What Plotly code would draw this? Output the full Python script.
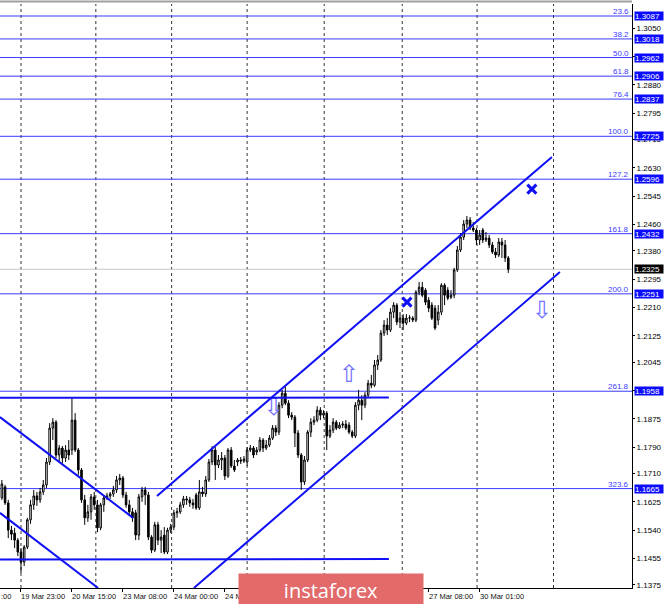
import plotly.graph_objects as go

# ---------------- data ----------------
bar_index = list(range(160))

open_ = [1.1637,1.1670,1.1622,1.1540,1.1531,1.1510,1.1474,1.1444,1.1489,1.1571,
         1.1616,1.1643,1.1631,1.1655,1.1676,1.1745,1.1847,1.1865,1.1766,1.1787,
         1.1757,1.1781,1.1781,1.1871,1.1781,1.1721,1.1631,1.1577,1.1595,1.1640,
         1.1616,1.1547,1.1616,1.1637,1.1643,1.1649,1.1661,1.1691,1.1697,1.1646,
         1.1616,1.1595,1.1592,1.1525,1.1640,1.1661,1.1646,1.1519,1.1480,1.1556,
         1.1510,1.1525,1.1474,1.1540,1.1549,1.1592,1.1595,1.1616,1.1634,1.1631,
         1.1622,1.1646,1.1607,1.1655,1.1649,1.1691,1.1745,1.1781,1.1736,1.1751,
         1.1757,1.1703,1.1781,1.1733,1.1745,1.1751,1.1748,1.1745,1.1781,1.1787,
         1.1775,1.1781,1.1811,1.1787,1.1796,1.1817,1.1847,1.1835,1.1916,1.1952,
         1.1922,1.1886,1.1880,1.1832,1.1766,1.1685,1.1751,1.1835,1.1865,1.1871,
         1.1901,1.1886,1.1892,1.1823,1.1841,1.1865,1.1847,1.1856,1.1859,1.1856,
         1.1835,1.1823,1.1916,1.1931,1.1916,1.1946,1.1982,1.1976,1.2037,1.2052,
         1.2133,1.2157,1.2142,1.2196,1.2217,1.2166,1.2178,1.2163,1.2178,1.2178,
         1.2172,1.2256,1.2271,1.2262,1.2232,1.2217,1.2208,1.2172,1.2196,1.2277,
         1.2262,1.2241,1.2247,1.2323,1.2383,1.2422,1.2461,1.2473,1.2449,1.2443,
         1.2413,1.2443,1.2413,1.2419,1.2398,1.2377,1.2368,1.2407,1.2398,1.2359]

high = [1.1691,1.1676,1.1631,1.1553,1.1547,1.1516,1.1486,1.1495,1.1577,1.1631,
        1.1661,1.1655,1.1667,1.1691,1.1757,1.1862,1.1877,1.1871,1.1796,1.1793,
        1.1796,1.1811,1.1937,1.1892,1.1787,1.1727,1.1646,1.1616,1.1649,1.1655,
        1.1631,1.1622,1.1646,1.1652,1.1655,1.1673,1.1703,1.1709,1.1703,1.1655,
        1.1631,1.1607,1.1601,1.1649,1.1670,1.1670,1.1655,1.1525,1.1565,1.1565,
        1.1540,1.1549,1.1547,1.1559,1.1601,1.1607,1.1625,1.1643,1.1643,1.1640,
        1.1634,1.1652,1.1691,1.1670,1.1703,1.1754,1.1793,1.1790,1.1766,1.1775,
        1.1766,1.1787,1.1790,1.1751,1.1757,1.1760,1.1763,1.1790,1.1796,1.1793,
        1.1790,1.1820,1.1817,1.1811,1.1826,1.1856,1.1856,1.1925,1.1962,1.1971,
        1.1931,1.1895,1.1886,1.1841,1.1772,1.1763,1.1841,1.1877,1.1883,1.1913,
        1.1910,1.1901,1.1898,1.1856,1.1877,1.1871,1.1865,1.1868,1.1871,1.1865,
        1.1841,1.1925,1.1962,1.1946,1.1955,1.1992,1.2007,1.2052,1.2067,1.2142,
        1.2172,1.2178,1.2208,1.2226,1.2223,1.2196,1.2190,1.2190,1.2187,1.2184,
        1.2262,1.2287,1.2287,1.2268,1.2241,1.2226,1.2217,1.2217,1.2283,1.2283,
        1.2271,1.2262,1.2329,1.2395,1.2434,1.2473,1.2485,1.2482,1.2467,1.2449,
        1.2443,1.2449,1.2437,1.2428,1.2407,1.2389,1.2419,1.2419,1.2413,1.2365]

low = [1.1631,1.1616,1.1516,1.1510,1.1486,1.1462,1.1411,1.1432,1.1483,1.1559,
       1.1601,1.1613,1.1622,1.1646,1.1667,1.1736,1.1811,1.1757,1.1745,1.1742,
       1.1745,1.1751,1.1766,1.1775,1.1706,1.1622,1.1556,1.1565,1.1571,1.1601,
       1.1534,1.1540,1.1595,1.1631,1.1634,1.1640,1.1652,1.1676,1.1637,1.1607,
       1.1583,1.1565,1.1510,1.1510,1.1625,1.1616,1.1510,1.1471,1.1474,1.1495,
       1.1471,1.1468,1.1468,1.1531,1.1540,1.1577,1.1589,1.1607,1.1616,1.1610,
       1.1604,1.1601,1.1601,1.1640,1.1640,1.1685,1.1736,1.1691,1.1727,1.1721,
       1.1691,1.1697,1.1727,1.1715,1.1733,1.1739,1.1742,1.1733,1.1775,1.1757,
       1.1766,1.1775,1.1775,1.1781,1.1790,1.1811,1.1823,1.1826,1.1907,1.1916,
       1.1877,1.1871,1.1790,1.1757,1.1661,1.1676,1.1745,1.1820,1.1856,1.1865,
       1.1871,1.1877,1.1781,1.1817,1.1832,1.1841,1.1844,1.1847,1.1841,1.1829,
       1.1817,1.1817,1.1901,1.1871,1.1907,1.1937,1.1967,1.1971,1.2022,1.2046,
       1.2124,1.2127,1.2136,1.2178,1.2157,1.2148,1.2142,1.2157,1.2166,1.2166,
       1.2166,1.2247,1.2241,1.2217,1.2196,1.2172,1.2142,1.2157,1.2187,1.2217,
       1.2232,1.2235,1.2238,1.2317,1.2377,1.2413,1.2449,1.2443,1.2437,1.2398,
       1.2398,1.2404,1.2407,1.2389,1.2371,1.2359,1.2362,1.2359,1.2347,1.2314]

close = [1.1679,1.1622,1.1540,1.1528,1.1510,1.1474,1.1444,1.1489,1.1571,1.1616,
         1.1643,1.1631,1.1655,1.1676,1.1745,1.1847,1.1865,1.1766,1.1787,1.1757,
         1.1781,1.1766,1.1871,1.1781,1.1721,1.1631,1.1577,1.1595,1.1640,1.1616,
         1.1547,1.1616,1.1637,1.1643,1.1649,1.1661,1.1691,1.1697,1.1646,1.1616,
         1.1595,1.1577,1.1525,1.1640,1.1661,1.1646,1.1519,1.1480,1.1556,1.1510,
         1.1519,1.1474,1.1540,1.1549,1.1592,1.1595,1.1616,1.1634,1.1631,1.1622,
         1.1616,1.1607,1.1655,1.1649,1.1691,1.1745,1.1781,1.1736,1.1751,1.1757,
         1.1703,1.1781,1.1733,1.1721,1.1751,1.1748,1.1754,1.1781,1.1787,1.1766,
         1.1781,1.1811,1.1787,1.1796,1.1817,1.1847,1.1835,1.1916,1.1952,1.1922,
         1.1886,1.1880,1.1832,1.1766,1.1685,1.1751,1.1835,1.1865,1.1871,1.1901,
         1.1886,1.1892,1.1823,1.1841,1.1865,1.1847,1.1856,1.1859,1.1847,1.1835,
         1.1823,1.1916,1.1931,1.1916,1.1946,1.1982,1.1976,1.2037,1.2052,1.2133,
         1.2157,1.2142,1.2196,1.2217,1.2166,1.2178,1.2163,1.2178,1.2179,1.2172,
         1.2256,1.2271,1.2247,1.2226,1.2208,1.2178,1.2148,1.2196,1.2277,1.2247,
         1.2238,1.2247,1.2323,1.2383,1.2422,1.2461,1.2473,1.2449,1.2443,1.2413,
         1.2428,1.2413,1.2419,1.2398,1.2377,1.2368,1.2407,1.2398,1.2359,1.2325]

current_price = 1.2325

fib_pct = ["23.6", "38.2", "50.0", "61.8", "76.4", "100.0", "127.2", "161.8", "200.0", "261.8", "323.6"]
fib_price = [1.3087, 1.3018, 1.2962, 1.2906, 1.2837, 1.2725, 1.2596, 1.2432, 1.2251, 1.1958, 1.1665]

price_ticks = [1.3050, 1.2965, 1.2880, 1.2795, 1.2715, 1.2630, 1.2545, 1.2460, 1.2380, 1.2295,
               1.2210, 1.2125, 1.2045, 1.1960, 1.1875, 1.1790, 1.1710, 1.1625, 1.1540, 1.1455, 1.1375]

time_tick_bar = [6, 22, 38, 54, 70, 86, 102, 118, 134, 150]
time_tick_text = ["19 Mar 23:00", "20 Mar 15:00", "23 Mar 08:00", "24 Mar 00:00", "24 Mar 16:00",
                  "25 Mar 08:00", "26 Mar 00:00", "26 Mar 16:00", "27 Mar 08:00", "30 Mar 01:00"]

day_separator_bar = [6, 29.5, 53.3, 77, 101.2, 125.7, 149.2, 173.2]

# analyst drawings: (bar, price) end points
trend_lines = [
    [(48.7, 1.1643), (172.7, 1.2663)],   # upper ascending channel
    [(60.3, 1.1366), (175.2, 1.2317)],   # lower ascending channel
    [(-0.6, 1.1880), (41.2, 1.1577)],    # upper descending line
    [(-0.6, 1.1592), (30.2, 1.1366)],    # lower descending line
    [(-0.6, 1.1938), (121.5, 1.1939)],   # horizontal resistance
    [(-0.6, 1.1452), (121.5, 1.1453)],   # horizontal support
]

cross_bar = [127.2, 166.4]
cross_price = [1.2226, 1.2566]

arrow_bar = [85.4, 109.0, 169.6]
arrow_price = [1.1905, 1.2004, 1.2196]
arrow_glyph = ["\u21e9", "\u21e7", "\u21e9"]

# ---------------- figure ----------------
W, H = 665, 604
ML, MR, MT, MB = 0, 33, 4, 16
plot_h = H - MT - MB
X_RANGE = [-0.59, 197.84]
Y_RANGE = [1.13659, 1.31231]

FONT = "Liberation Sans"
BLUE = "#1010f5"
FIB_BLUE = "#3a3aff"

fig = go.Figure()

fig.add_trace(go.Candlestick(
    x=bar_index, open=open_, high=high, low=low, close=close,
    increasing=dict(fillcolor="#ffffff", line=dict(color="#000000", width=1)),
    decreasing=dict(fillcolor="#000000", line=dict(color="#000000", width=1)),
    whiskerwidth=0, showlegend=False, hoverinfo="skip",
))

fig.add_trace(go.Scatter(
    x=cross_bar, y=cross_price, mode="markers", showlegend=False, hoverinfo="skip",
    marker=dict(symbol="x-thin", size=9, line=dict(width=3, color=BLUE), color=BLUE),
))

fig.add_trace(go.Scatter(
    x=arrow_bar, y=arrow_price, mode="text", text=arrow_glyph, showlegend=False, hoverinfo="skip",
    textfont=dict(family="DejaVu Sans", size=24, color="#7070ff"),
))

shapes = []
for b in day_separator_bar:
    shapes.append(dict(type="line", xref="x", yref="paper", x0=b, x1=b, y0=0, y1=1,
                       line=dict(color="#333333", width=1, dash="dot"), layer="below"))
for p in fib_price:
    shapes.append(dict(type="line", xref="paper", yref="y", x0=0, x1=1, y0=p, y1=p,
                       line=dict(color=FIB_BLUE, width=1), layer="below"))
shapes.append(dict(type="line", xref="paper", yref="y", x0=0, x1=1, y0=current_price, y1=current_price,
                   line=dict(color="#c8c8c8", width=1), layer="below"))
for (a, b) in trend_lines:
    shapes.append(dict(type="line", xref="x", yref="y", x0=a[0], y0=a[1], x1=b[0], y1=b[1],
                       line=dict(color=BLUE, width=2), layer="above"))
shapes.append(dict(type="line", xref="paper", yref="paper", x0=0, x1=1,
                   y0=1 + 2.5 / plot_h, y1=1 + 2.5 / plot_h,
                   line=dict(color="#a0a0a0", width=2)))

annotations = []
for t, p in zip(fib_pct, fib_price):
    annotations.append(dict(xref="paper", yref="y", x=1, y=p, text=t, showarrow=False,
                            xanchor="right", yanchor="bottom", xshift=-1, yshift=-2,
                            font=dict(family=FONT, size=8, color=FIB_BLUE)))
for p in fib_price:
    annotations.append(dict(xref="paper", yref="y", x=1, y=p, text=f"{p:.4f}", showarrow=False,
                            xanchor="left", yanchor="middle", xshift=2, width=28, height=8,
                            align="left", bgcolor="#0a0aff", borderpad=0,
                            font=dict(family=FONT, size=8, color="#ffffff")))
annotations.append(dict(xref="paper", yref="y", x=1, y=current_price, text=f"{current_price:.4f}",
                        showarrow=False, xanchor="left", yanchor="middle", xshift=2, width=28, height=8,
                        align="left", bgcolor="#000000", borderpad=0,
                        font=dict(family=FONT, size=8, color="#ffffff")))
for b, t in zip(time_tick_bar, time_tick_text):
    annotations.append(dict(xref="x", yref="paper", x=b, y=-2 / plot_h, text=t, showarrow=False,
                            xanchor="left", yanchor="top", xshift=-2,
                            font=dict(family=FONT, size=7.5, color="#111111")))
annotations.append(dict(xref="paper", yref="paper", x=0, y=-2 / plot_h, text=":00", showarrow=False,
                        xanchor="left", yanchor="top", xshift=-1,
                        font=dict(family=FONT, size=7.5, color="#111111")))
annotations.append(dict(xref="paper", yref="paper", x=238 / 632, y=15 / plot_h,
                        text="instaforex", showarrow=False, xanchor="left", yanchor="top",
                        width=184, height=32, bgcolor="#e26a6a", borderpad=0, align="center",
                        font=dict(family="Open Sans", size=20, color="#ffffff")))

fig.update_layout(
    width=W, height=H,
    margin=dict(l=ML, r=MR, t=MT, b=MB),
    paper_bgcolor="#ffffff", plot_bgcolor="#ffffff",
    shapes=shapes, annotations=annotations,
    showlegend=False,
    xaxis=dict(range=X_RANGE, showgrid=False, zeroline=False, rangeslider=dict(visible=False),
               tickmode="array", tickvals=time_tick_bar, ticks="outside", ticklen=3,
               tickcolor="#000000", showticklabels=False,
               showline=True, linecolor="#000000", linewidth=1, mirror=False),
    yaxis=dict(range=Y_RANGE, side="right", showgrid=False, zeroline=False,
               tickmode="array", tickvals=price_ticks, ticktext=[f"{v:.4f}" for v in price_ticks],
               ticks="outside", ticklen=2, tickcolor="#000000",
               tickfont=dict(family=FONT, size=8, color="#000000"),
               showline=True, linecolor="#000000", linewidth=1),
    hovermode=False,
)

fig.write_html("out.html",
               config={"displayModeBar": False, "staticPlot": True},
               post_script="document.body.style.margin='0';document.body.style.overflow='hidden';")
